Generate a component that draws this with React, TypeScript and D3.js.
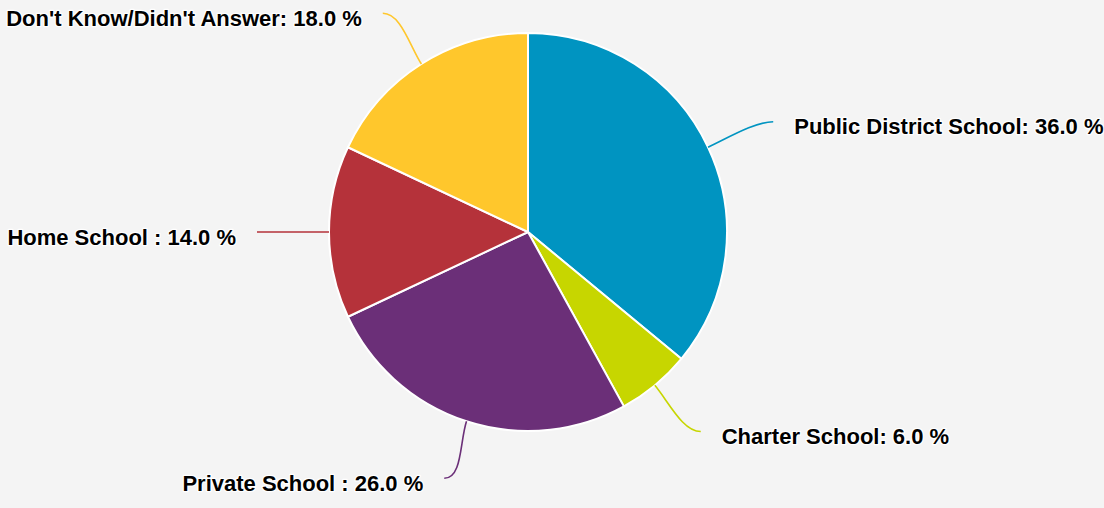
import React from "react";
import * as d3 from "d3";

const categories = ["Public District School", "Charter School", "Private School ", "Home School ", "Don't Know/Didn't Answer"];
const values = [36.0, 6.0, 26.0, 14.0, 18.0];
const colors = ["#0094c1", "#c7d600", "#6b2f78", "#b5323a", "#ffc72c"];

const W = 1104;
const H = 508;
const cx = 528;
const cy = 232;
const R = 199;
const labelRx = 271;
const labelRy = 259;

export default function App() {
  const data = categories.map((c, i) => ({ name: c, value: values[i], color: colors[i] }));
  const pie = d3.pie<any>().value((d: any) => d.value).sort(null);
  const arcs = pie(data);
  const arcGen = d3.arc<any>().innerRadius(0).outerRadius(R);

  return (
    <svg width={W} height={H} style={{ position: "absolute", left: 0, top: 0, display: "block" }}>
      <rect x={0} y={0} width={W} height={H} fill="#f4f4f4" />
      <g transform={`translate(${cx},${cy})`}>
        {arcs.map((a, i) => (
          <path key={i} d={arcGen(a) as string} fill={a.data.color} stroke="#ffffff" strokeWidth={2} strokeLinejoin="round" />
        ))}
        {arcs.map((a, i) => {
          const mid = (a.startAngle + a.endAngle) / 2;
          const sx = Math.sin(mid), sy = -Math.cos(mid);
          const p0 = [R * sx, R * sy];
          const p3 = [labelRx * sx, labelRy * sy];
          const dir = sx >= 0 ? 1 : -1;
          const p1 = [p0[0] + sx * 22, p0[1] + sy * 22];
          const p2 = [p3[0] - dir * 18, p3[1]];
          const path = d3.path();
          path.moveTo(p0[0], p0[1]);
          path.bezierCurveTo(p1[0], p1[1], p2[0], p2[1], p3[0], p3[1]);
          return (
            <g key={"l" + i}>
              <path d={path.toString()} fill="none" stroke={a.data.color} strokeWidth={1.6} />
              <text
                x={p3[0] + dir * 21}
                y={p3[1] + 12.5}
                textAnchor={dir > 0 ? "start" : "end"}
                fontFamily="'Liberation Sans', Arial, Helvetica, sans-serif"
                fontWeight="bold"
                fontSize={22}
                fill="#000"
                stroke="#ffffff"
                strokeWidth={2.5}
                strokeLinejoin="round"
                style={{ paintOrder: "stroke" }}
              >
                {`${a.data.name}: ${a.data.value.toFixed(1)} %`}
              </text>
            </g>
          );
        })}
      </g>
    </svg>
  );
}
